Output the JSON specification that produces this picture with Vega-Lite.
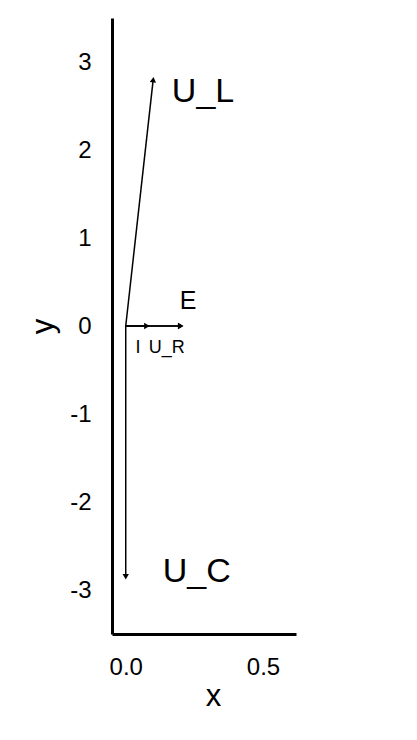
{
  "$schema": "https://vega.github.io/schema/vega-lite/v6.json",
  "width": 184,
  "height": 616,
  "autosize": "none",
  "padding": {"left": 112, "top": 18, "right": 121, "bottom": 106},
  "background": "white",
  "config": {
    "view": {"stroke": null},
    "font": "Liberation Sans",
    "axis": {
      "domainWidth": 3, "domainColor": "black", "ticks": false, "grid": false,
      "labelFont": "Liberation Sans", "labelFontSize": 24, "labelColor": "black",
      "titleFont": "Liberation Sans", "titleFontSize": 31, "titleFontWeight": "normal", "titleColor": "black"
    }
  },
  "data": {"values": [
    {"name": "I", "x0": 0, "y0": 0, "x": 0.077, "y": 0, "lx": 0.036, "ly": -0.25, "fs": "small"},
    {"name": "U_R", "x0": 0, "y0": 0, "x": 0.2, "y": 0, "lx": 0.084, "ly": -0.25, "fs": "small"},
    {"name": "E", "x0": 0, "y0": 0, "x": 0.2, "y": 0, "lx": 0.197, "ly": 0.28, "fs": "mid"},
    {"name": "U_L", "x0": 0, "y0": 0, "x": 0.1, "y": 2.8, "lx": 0.168, "ly": 2.66, "fs": "big"},
    {"name": "U_C", "x0": 0, "y0": 0, "x": 0.0, "y": -2.85, "lx": 0.135, "ly": -2.8, "fs": "big"}
  ]},
  "layer": [
    {
      "mark": {"type": "rule", "color": "black", "strokeWidth": 1.5},
      "encoding": {
        "x": {"field": "x0", "type": "quantitative", "scale": {"domain": [-0.05, 0.62], "nice": false, "zero": false},
              "axis": {"values": [0, 0.5], "labelExpr": "format(datum.value, '.1f')", "title": "x", "labelPadding": 21, "titlePadding": 2, "titleX": 101, "titleAlign": "center"}},
        "y": {"field": "y0", "type": "quantitative", "scale": {"domain": [-3.5, 3.5], "nice": false},
              "axis": {"values": [-3, -2, -1, 0, 1, 2, 3], "labelExpr": "datum.value + ''", "title": "y", "labelPadding": 21, "titlePadding": 10}},
        "x2": {"field": "x"},
        "y2": {"field": "y"}
      }
    },
    {
      "transform": [{"filter": "datum.name == 'I' || datum.name == 'U_R' || datum.name == 'E'"}],
      "mark": {"type": "point", "shape": "triangle-right", "filled": true, "color": "black", "size": 40, "opacity": 1},
      "encoding": {"x": {"field": "x", "type": "quantitative"}, "y": {"field": "y", "type": "quantitative"}}
    },
    {
      "transform": [{"filter": "datum.name == 'U_L'"}],
      "mark": {"type": "point", "shape": "triangle-up", "angle": 6, "filled": true, "color": "black", "size": 40, "opacity": 1},
      "encoding": {"x": {"field": "x", "type": "quantitative"}, "y": {"field": "y", "type": "quantitative"}}
    },
    {
      "transform": [{"filter": "datum.name == 'U_C'"}],
      "mark": {"type": "point", "shape": "triangle-down", "filled": true, "color": "black", "size": 40, "opacity": 1},
      "encoding": {"x": {"field": "x", "type": "quantitative"}, "y": {"field": "y", "type": "quantitative"}}
    },
    {
      "transform": [{"filter": "datum.fs == 'small'"}],
      "mark": {"type": "text", "align": "left", "baseline": "middle", "fontSize": 18, "font": "Liberation Sans", "color": "black"},
      "encoding": {"x": {"field": "lx", "type": "quantitative"}, "y": {"field": "ly", "type": "quantitative"}, "text": {"field": "name"}}
    },
    {
      "transform": [{"filter": "datum.fs == 'mid'"}],
      "mark": {"type": "text", "align": "left", "baseline": "middle", "fontSize": 25, "font": "Liberation Sans", "color": "black"},
      "encoding": {"x": {"field": "lx", "type": "quantitative"}, "y": {"field": "ly", "type": "quantitative"}, "text": {"field": "name"}}
    },
    {
      "transform": [{"filter": "datum.fs == 'big'"}],
      "mark": {"type": "text", "align": "left", "baseline": "middle", "fontSize": 34, "font": "Liberation Sans", "color": "black"},
      "encoding": {"x": {"field": "lx", "type": "quantitative"}, "y": {"field": "ly", "type": "quantitative"}, "text": {"field": "name"}}
    }
  ]
}
